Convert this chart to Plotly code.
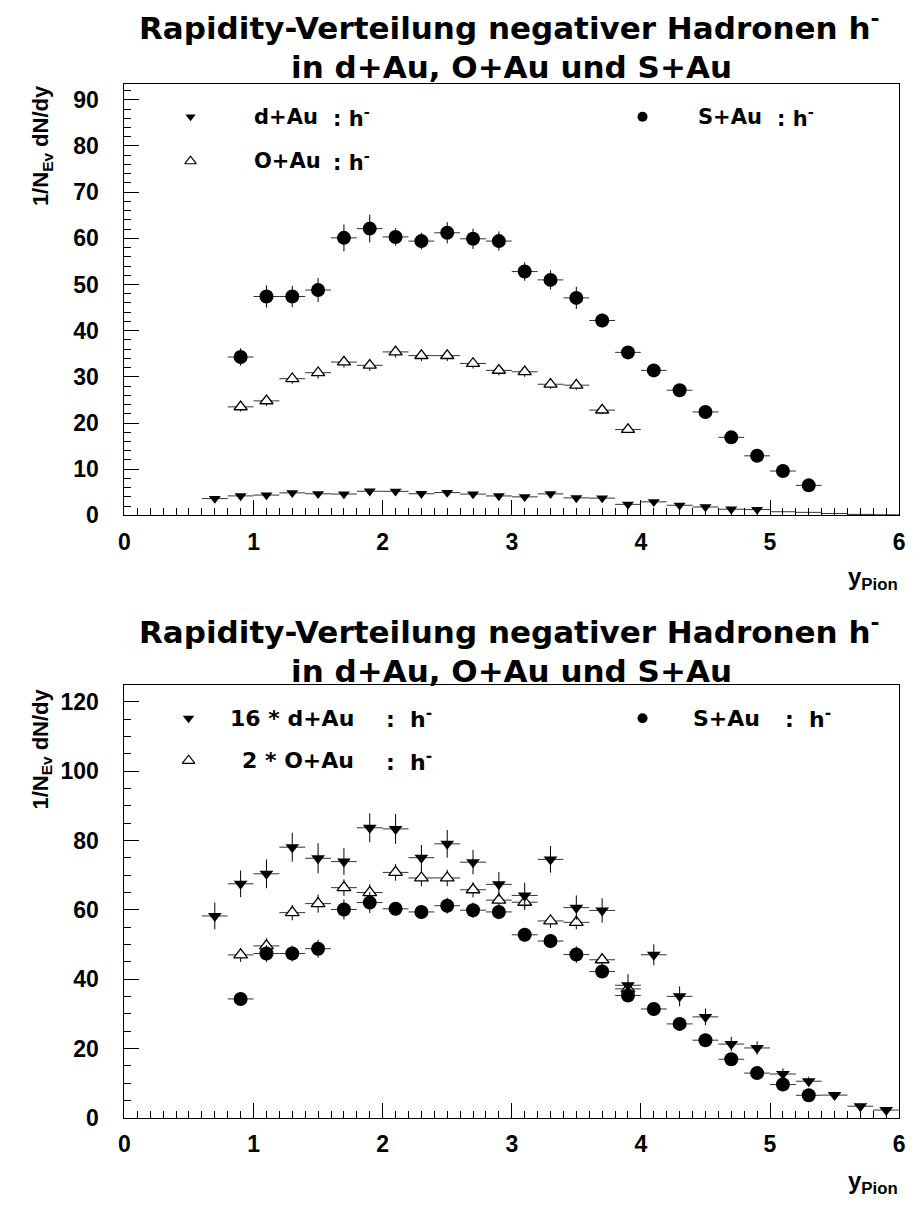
import plotly.graph_objects as go

# ---------------- data ----------------
# rapidity bin centres (bin width 0.2)
y_dau = [0.7, 0.9, 1.1, 1.3, 1.5, 1.7, 1.9, 2.1, 2.3, 2.5, 2.7, 2.9, 3.1, 3.3,
         3.5, 3.7, 3.9, 4.1, 4.3, 4.5, 4.7, 4.9, 5.1, 5.3, 5.5, 5.7, 5.9]
dn_dau = [3.64, 4.22, 4.40, 4.88, 4.68, 4.62, 5.23, 5.21, 4.69, 4.94, 4.61, 4.21,
          4.01, 4.66, 3.79, 3.74, 2.39, 2.94, 2.19, 1.82, 1.33, 1.26, 0.79, 0.66,
          0.41, 0.21, 0.14]
err_dau = [0.24, 0.24, 0.26, 0.26, 0.27, 0.24, 0.26, 0.27, 0.23, 0.25, 0.22, 0.22,
           0.23, 0.24, 0.22, 0.22, 0.20, 0.19, 0.18, 0.15, 0.13, 0.12, 0.10, 0.08,
           0.06, 0.05, 0.04]

y_oau = [0.9, 1.1, 1.3, 1.5, 1.7, 1.9, 2.1, 2.3, 2.5, 2.7, 2.9, 3.1, 3.3, 3.5, 3.7, 3.9]
dn_oau = [23.5, 24.8, 29.6, 30.9, 33.2, 32.5, 35.4, 34.6, 34.6, 32.9, 31.4, 31.1,
          28.4, 28.2, 22.8, 18.6]
err_oau = [1.0, 1.1, 1.1, 1.3, 1.2, 1.2, 1.2, 1.2, 1.2, 1.1, 1.1, 1.1, 1.0, 1.0, 0.9, 0.8]

y_sau = [0.9, 1.1, 1.3, 1.5, 1.7, 1.9, 2.1, 2.3, 2.5, 2.7, 2.9, 3.1, 3.3, 3.5, 3.7,
         3.9, 4.1, 4.3, 4.5, 4.7, 4.9, 5.1, 5.3]
dn_sau = [34.3, 47.4, 47.4, 48.8, 60.1, 62.1, 60.3, 59.4, 61.2, 59.9, 59.4, 52.8,
          51.0, 47.1, 42.2, 35.3, 31.4, 27.1, 22.4, 16.9, 12.9, 9.6, 6.5]
err_sau = [1.9, 2.4, 2.3, 2.6, 2.9, 3.0, 1.9, 1.8, 2.3, 2.2, 2.1, 2.0, 2.1, 2.4, 1.5,
           1.3, 1.2, 1.1, 1.0, 0.9, 0.8, 0.7, 0.6]

half_bin = 0.1
scale_dau = 16
scale_oau = 2
n_dau_top = 22          # d+Au markers shown up to y = 4.9 in the upper panel

# ---------------- page geometry ----------------
W, H = 914, 1207
TICK_FONT = "Liberation Sans"
TEXT_FONT = "DejaVu Sans"


def px(x):
    return x / W


def py(y):
    return 1 - y / H


fig = go.Figure()


def add_points(xs, ys, errs, xa, ya, symbol, size, fill, show_marker=True):
    fig.add_trace(go.Scatter(
        x=xs, y=ys, mode="markers", xaxis=xa, yaxis=ya, showlegend=False,
        error_y=dict(type="data", array=errs, color="black", thickness=1, width=0),
        error_x=dict(type="constant", value=half_bin, color="#333", thickness=1, width=0),
        marker=dict(symbol=symbol, size=size if show_marker else 1,
                    color=fill if show_marker else "rgba(0,0,0,0)",
                    line=dict(color="black", width=1.3 if fill == "white" else 0)),
        cliponaxis=True,
    ))


# upper panel
add_points(y_dau[:n_dau_top], dn_dau[:n_dau_top], err_dau[:n_dau_top], "x", "y",
           "triangle-down", 10.5, "black")
add_points(y_dau[n_dau_top:], dn_dau[n_dau_top:], err_dau[n_dau_top:], "x", "y",
           "triangle-down", 10.5, "black", show_marker=False)
add_points(y_oau, dn_oau, err_oau, "x", "y", "triangle-up", 11.5, "white")
add_points(y_sau, dn_sau, err_sau, "x", "y", "circle", 14, "black")

# lower panel: scaled d+Au and O+Au compared with S+Au
add_points(y_oau, [v * scale_oau for v in dn_oau], [e * scale_oau for e in err_oau],
           "x2", "y2", "triangle-up", 12, "white")
add_points(y_dau, [v * scale_dau for v in dn_dau], [e * scale_dau for e in err_dau],
           "x2", "y2", "triangle-down", 12, "black")
add_points(y_sau, dn_sau, err_sau, "x2", "y2", "circle", 14, "black")

# legend keys on a full-page overlay axis (pixel units)
key_x = [187, 187, 645, 185, 185, 645]
key_y = [118, 163, 118, 726, 769, 726]
key_sym = ["triangle-down", "triangle-up", "circle", "triangle-down", "triangle-up", "circle"]
key_fill = ["black", "white", "black", "black", "white", "black"]
key_size = [9, 10, 10, 10, 11, 10]
for kx, ky, ks, kf, kz in zip(key_x, key_y, key_sym, key_fill, key_size):
    fig.add_trace(go.Scatter(
        x=[kx], y=[ky], mode="markers", xaxis="x3", yaxis="y3", showlegend=False,
        marker=dict(symbol=ks, size=kz, color=kf,
                    line=dict(color="black", width=1.2 if kf == "white" else 0)),
    ))

tickfont = dict(family=TICK_FONT, size=23, color="black", weight="bold")


def xaxis_cfg(domain_y_anchor):
    return dict(
        domain=[px(120), px(905)], range=[0, 6], anchor=domain_y_anchor,
        tickmode="linear", tick0=0, dtick=1, ticks="inside", ticklen=15,
        tickcolor="black", tickwidth=1,
        minor=dict(dtick=0.1, ticks="inside", ticklen=7, tickcolor="black", tickwidth=1),
        showline=True, linecolor="black", linewidth=1, mirror=True,
        showgrid=False, zeroline=False, tickfont=tickfont, ticklabelstandoff=6,
    )


def yaxis_cfg(domain, rng, dtick, minor, xa):
    return dict(
        domain=domain, range=rng, anchor=xa,
        tickmode="linear", tick0=0, dtick=dtick, ticks="inside", ticklen=15,
        tickcolor="black", tickwidth=1,
        minor=dict(dtick=minor, ticks="inside", ticklen=7, tickcolor="black", tickwidth=1),
        showline=True, linecolor="black", linewidth=1, mirror=True,
        showgrid=False, zeroline=False, tickfont=tickfont, ticklabelstandoff=20,
    )


fig.update_layout(
    width=W, height=H, margin=dict(l=0, r=0, t=0, b=0),
    paper_bgcolor="white", plot_bgcolor="rgba(0,0,0,0)",
    font=dict(family=TEXT_FONT, color="black"),
    xaxis=xaxis_cfg("y"),
    yaxis=yaxis_cfg([py(521), py(85)], [0, 93.4], 10, 2, "x"),
    xaxis2=xaxis_cfg("y2"),
    yaxis2=yaxis_cfg([py(1130), py(692)], [0, 125], 20, 5, "x2"),
    xaxis3=dict(domain=[0, 1], range=[0, W], visible=False, anchor="y3"),
    yaxis3=dict(domain=[0, 1], range=[H, 0], visible=False, anchor="x3"),
)

annotations = []


def text(x, y, s, size, xanchor="left", yanchor="middle", family=TEXT_FONT, angle=0):
    annotations.append(dict(
        x=px(x), y=py(y), xref="paper", yref="paper", text=s, showarrow=False,
        xanchor=xanchor, yanchor=yanchor, textangle=angle, borderpad=0,
        font=dict(family=family, size=size, color="black", weight="bold"),
    ))


title1 = "Rapidity-Verteilung negativer Hadronen h<sup>-</sup>"
title2 = "in d+Au, O+Au und S+Au"
ytitle = "1/N<sub>Ev</sub> dN/dy"
xtitle = "y<sub>Pion</sub>"

for top in (0, 610):
    text(510, 48 + top, title1, 31, xanchor="center", yanchor="bottom")
    text(512, 49 + top, title2, 31, xanchor="center", yanchor="top")
    text(905, 585 + top, xtitle, 24, xanchor="right", family=TICK_FONT)
    text(36, 85 + top, ytitle, 22, xanchor="center", yanchor="top",
         family=TICK_FONT, angle=-90)

# legend texts, upper panel
text(250, 118, "d+Au", 21)
text(330, 118, ": h<sup>-</sup>", 21)
text(250, 163, "O+Au", 21)
text(330, 163, ": h<sup>-</sup>", 21)
text(700, 118, "S+Au", 21)
text(780, 118, ": h<sup>-</sup>", 21)

# legend texts, lower panel
text(226, 726, "16 * d+Au", 22)
text(384, 726, ":  h<sup>-</sup>", 22)
text(238, 769, "2 * O+Au", 22)
text(384, 769, ":  h<sup>-</sup>", 22)
text(695, 726, "S+Au", 22)
text(788, 726, ":  h<sup>-</sup>", 22)

fig.update_layout(annotations=annotations)

fig.write_html("out.html")
